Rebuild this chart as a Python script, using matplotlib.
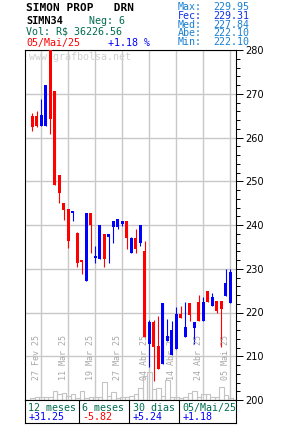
import numpy as np
import matplotlib
matplotlib.use("Agg")
import matplotlib.pyplot as plt
from matplotlib.ticker import MultipleLocator
import matplotlib.transforms as mtransforms

# dados (pregões de 25/Fev/25 a 05/Mai/25)
datas = ["25 Fev 25", "26 Fev 25", "27 Fev 25", "28 Fev 25", "05 Mar 25", "06 Mar 25",
         "07 Mar 25", "10 Mar 25", "11 Mar 25", "12 Mar 25", "13 Mar 25", "14 Mar 25",
         "17 Mar 25", "18 Mar 25", "19 Mar 25", "20 Mar 25", "21 Mar 25", "24 Mar 25",
         "25 Mar 25", "26 Mar 25", "27 Mar 25", "28 Mar 25", "31 Mar 25", "01 Abr 25",
         "02 Abr 25", "03 Abr 25", "04 Abr 25", "07 Abr 25", "08 Abr 25", "09 Abr 25",
         "10 Abr 25", "11 Abr 25", "14 Abr 25", "15 Abr 25", "16 Abr 25", "17 Abr 25",
         "22 Abr 25", "23 Abr 25", "24 Abr 25", "25 Abr 25", "28 Abr 25", "29 Abr 25",
         "30 Abr 25", "02 Mai 25", "05 Mai 25"]

abertura = [264.9, 264.9, 262.7, 262.7, 282.0, 270.6, 251.4, 245.0, 243.6, 242.8,
            238.1, 232.0, 227.3, 242.7, 232.5, 232.2, 237.9, 237.3, 239.6, 239.6,
            240.2, 240.9, 233.7, 237.0, 235.9, 234.1, 212.7, 217.9, 212.3, 208.2,
            213.6, 210.3, 211.6, 219.7, 214.5, 222.2, 216.4, 222.3, 218.1, 224.9,
            221.6, 222.6, 222.6, 223.8, 222.10]
maxima = [265.7, 266.1, 268.8, 272.0, 282.0, 270.6, 251.4, 245.0, 243.6, 243.2,
          238.3, 232.0, 242.7, 242.7, 235.2, 240.0, 237.9, 237.9, 240.9, 241.4,
          240.9, 240.9, 237.3, 239.2, 240.0, 236.3, 218.3, 218.3, 219.2, 222.1,
          218.5, 218.1, 221.3, 221.5, 222.4, 222.2, 217.9, 224.0, 223.6, 224.9,
          224.5, 222.6, 222.6, 229.9, 229.95]
minima = [261.6, 262.5, 262.7, 262.7, 260.9, 249.2, 245.1, 241.2, 234.8, 241.0,
          230.5, 228.9, 227.3, 233.7, 231.4, 232.2, 230.5, 231.4, 236.0, 239.1,
          239.8, 234.5, 233.7, 233.7, 235.3, 214.5, 207.6, 204.4, 207.0, 208.2,
          213.6, 210.3, 211.6, 218.8, 214.5, 218.1, 212.7, 218.1, 218.1, 222.5,
          221.6, 220.0, 212.2, 223.8, 222.10]
fechamento = [262.5, 262.7, 265.1, 272.0, 264.3, 249.2, 247.4, 243.5, 236.4, 243.2,
              231.4, 231.6, 242.7, 239.9, 232.9, 240.0, 232.2, 237.9, 240.9, 241.4,
              240.9, 237.1, 237.1, 234.6, 240.0, 214.5, 217.9, 212.2, 207.0, 222.1,
              214.6, 216.0, 219.7, 218.8, 216.6, 219.4, 217.9, 218.1, 222.3, 222.5,
              223.6, 220.4, 220.8, 226.8, 229.31]
volume = [2, 3, 3, 3, 3, 9, 6, 7, 4, 6, 2, 9, 2, 3, 3, 3, 18, 4, 8, 2, 3, 3,
          4, 6, 12, 24, 28, 11, 12, 4, 20, 3, 3, 2, 3, 7, 9, 3, 6, 6, 3, 3, 13, 5, 2]

periodos = ["12 meses", "6 meses", "30 dias", "05/Mai/25"]
variacoes = [31.25, -5.82, 5.24, 1.18]

resumo_rot = ["Max:", "Fec:", "Med:", "Abe:", "Min:"]
resumo_val = [229.95, 229.31, 227.84, 222.10, 222.10]

VERDE = "#006b4f"
AZUL_CLARO = "#1a80d0"
MONO = "DejaVu Sans Mono"

W, H = 285, 425


def caixa(x0, y0, w, h):
    return [x0 / W, 1 - (y0 + h) / H, w / W, h / H]


def texto(x, y, s, cor, tam=7.2, peso="normal"):
    fig.text(x / W, 1 - y / H, s, color=cor, fontsize=tam, fontweight=peso,
             family=MONO, va="baseline", ha="left")


fig = plt.figure(figsize=(W / 100, H / 100), dpi=100)

ax = fig.add_axes(caixa(25, 50, 211, 350))
ax_vol = ax.twinx()
ax.set_zorder(ax_vol.get_zorder() + 1)
ax.patch.set_visible(False)

x = np.arange(len(datas))

# volume
ax_vol.bar(x, volume, width=1.0, fill=False, edgecolor="#c4c4c4", linewidth=0.8)
ax_vol.set_ylim(0, max(volume) * 350 / 28)
ax_vol.axis("off")

# candles
for i in x:
    o, h, l, c = abertura[i], maxima[i], minima[i], fechamento[i]
    cor = "#0000ff" if c >= o else "#ff0000"
    ax.vlines(i, l, h, color=cor, linewidth=0.8, zorder=3)
    ax.bar(i, abs(c - o) if abs(c - o) > 0.3 else 0.3, bottom=min(o, c), width=0.75,
           color=cor, linewidth=0, zorder=4)

ax.set_xlim(-1.62, 45.27)
ax.set_ylim(200, 280)

# eixos
ax.yaxis.tick_right()
ax.set_yticks(np.arange(200, 281, 10))
ax.yaxis.set_minor_locator(MultipleLocator(2))
ax.tick_params(axis="y", which="major", direction="out", length=5, width=0.7,
               pad=1.5, labelsize=7, colors="black")
ax.tick_params(axis="y", which="minor", direction="out", length=3, width=0.7)

rotulos = list(range(2, len(datas), 6))
ax.set_xticks(rotulos)
ax.tick_params(axis="x", length=0, labelbottom=False)
ax.grid(True, which="major", color="#c8c8c8", linewidth=1.0, zorder=0)
ax.set_axisbelow(True)

for lado in ["left", "top", "right"]:
    ax.spines[lado].set_color("black")
    ax.spines[lado].set_linewidth(0.8)
ax.spines["bottom"].set_visible(False)

trans = mtransforms.blended_transform_factory(ax.transData, ax.transAxes)
for i in rotulos:
    ax.text(i - 1.1, 0.057, datas[i], rotation=90, ha="center", va="bottom",
            color="#a8a8a8", fontsize=6, family=MONO, transform=trans)

ax.text(0.018, 0.995, "www.grafbolsa.net", transform=ax.transAxes, ha="left",
        va="top", color="#d0d0d0", fontsize=7.2, family=MONO)

# cabeçalho
texto(26, 11, "SIMON PROP   DRN", "black", 8, "bold")
texto(26, 24, "SIMN34", "black", 7.4, "bold")
texto(89, 24, "Neg: 6", VERDE)
texto(26, 35, "Vol: R$ 36226.56", VERDE)
texto(26, 46, "05/Mai/25", "#ff0000")
texto(108, 46, "+1.18 %", "#0000ff")

for k, (r, v) in enumerate(zip(resumo_rot, resumo_val)):
    cor = "#1030e8" if r == "Fec:" else AZUL_CLARO
    yb = 10 + k * 8.8
    texto(178, yb, r, cor)
    texto(213, yb, f"{v:.2f}", cor)

# tabela de variações
ax_tab = fig.add_axes(caixa(25, 400, 211, 23))
ax_tab.set_xlim(25, 236)
ax_tab.set_ylim(23, 0)
ax_tab.set_xticks([])
ax_tab.set_yticks([])
for lado in ax_tab.spines:
    ax_tab.spines[lado].set_linewidth(0.8)
    ax_tab.spines[lado].set_color("black")
limites = [25, 79, 129.3, 178.7, 236]
for xb in limites[1:-1]:
    ax_tab.axvline(xb, color="black", linewidth=0.8)
for k, (p, v) in enumerate(zip(periodos, variacoes)):
    x0 = limites[k] + 3.5
    ax_tab.text(x0, 11, p, color=VERDE, fontsize=7.2, family=MONO, va="baseline")
    ax_tab.text(x0, 20, f"{v:+.2f}", color="#0000ff" if v >= 0 else "#ff0000",
                fontsize=7.2, family=MONO, va="baseline")

fig.savefig("out.png", dpi=100)
